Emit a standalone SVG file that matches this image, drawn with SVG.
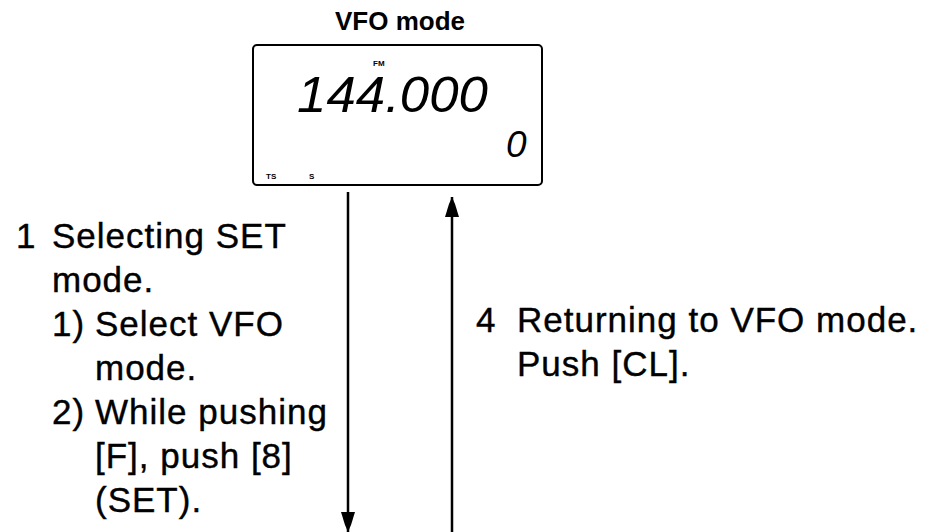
<svg xmlns="http://www.w3.org/2000/svg" width="929" height="532" viewBox="0 0 929 532">
<style>
.t{font-family:"Liberation Sans",Arial,sans-serif;font-size:35px;letter-spacing:1px;fill:#000;stroke:#000;stroke-width:0.4}
.title{font-family:"Liberation Sans",Arial,sans-serif;font-size:26px;font-weight:bold;fill:#000}
.lcd{font-family:"Liberation Sans",Arial,sans-serif;font-style:italic;fill:#000}
.tiny{font-family:"Liberation Sans",Arial,sans-serif;font-size:8px;font-weight:bold;fill:#000}
.conn{stroke:#000;stroke-width:2.5;fill:none}
</style>
<defs>
<marker id="ah" markerUnits="userSpaceOnUse" markerWidth="20" markerHeight="16" viewBox="0 0 20 16" refX="20" refY="8" orient="auto">
<path d="M20,8 L13,5 L0,1 L0,15 L13,11 Z" fill="#000"/>
</marker>
</defs>
<rect width="929" height="532" fill="#fff"/>
<g id="vfo-mode">
<text class="title" x="400" y="30" text-anchor="middle">VFO mode</text>
<rect x="253" y="45" width="289" height="140" rx="4" fill="none" stroke="#000" stroke-width="2"/>
<text class="tiny" x="373" y="66">FM</text>
<text class="lcd" x="297" y="112" font-size="50" textLength="191" lengthAdjust="spacingAndGlyphs">144.000</text>
<text class="lcd" x="506" y="157" font-size="37">0</text>
<text class="tiny" x="266" y="179">TS</text>
<text class="tiny" x="309" y="179">S</text>
</g>
<g id="connectors">
<line class="conn" x1="348" y1="192" x2="348" y2="532" marker-end="url(#ah)"/>
<line class="conn" x1="452" y1="532" x2="452" y2="197" marker-end="url(#ah)"/>
</g>
<g id="step1">
<text class="t" x="16" y="248">1</text>
<text class="t" x="52" y="248">Selecting SET</text>
<text class="t" x="52" y="292">mode.</text>
<text class="t" x="52" y="336">1)</text>
<text class="t" x="95" y="336">Select VFO</text>
<text class="t" x="95" y="380">mode.</text>
<text class="t" x="52" y="424">2)</text>
<text class="t" x="95" y="424">While pushing</text>
<text class="t" x="95" y="468">[F], push [8]</text>
<text class="t" x="95" y="512">(SET).</text>
</g>
<g id="step4">
<text class="t" x="476" y="332">4</text>
<text class="t" x="517" y="332">Returning to VFO mode.</text>
<text class="t" x="517" y="376">Push [CL].</text>
</g>
</svg>
